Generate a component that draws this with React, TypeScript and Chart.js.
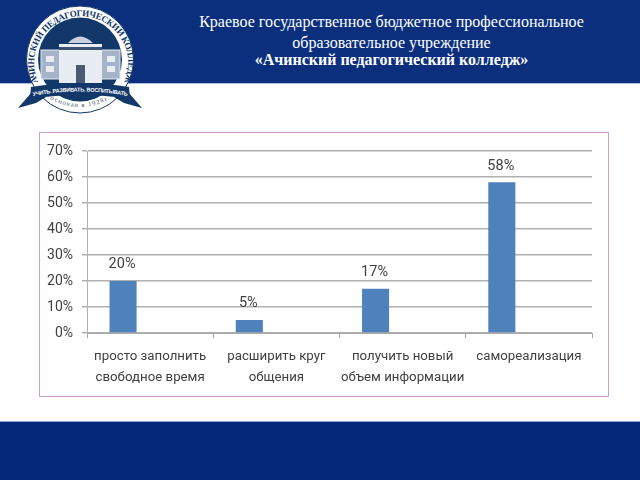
import React, { useEffect, useRef } from "react";
import { Chart, registerables } from "chart.js";

Chart.register(...registerables);

const categories = [
  ["просто заполнить", "свободное время"],
  ["расширить круг", "общения"],
  ["получить новый", "объем информации"],
  ["самореализация"],
];
const shares = [20, 5, 17, 58];
const emptySeriesA = [null, null, null, null];
const emptySeriesB = [null, null, null, null];
const titleLines = [
  "Краевое государственное бюджетное профессиональное",
  "образовательное учреждение",
  "«Ачинский педагогический колледж»",
];

const valueLabels = {
  id: "valueLabels",
  afterDatasetsDraw(chart: any) {
    const { ctx } = chart;
    const meta = chart.getDatasetMeta(0);
    ctx.save();
    ctx.font = '14.5px Roboto';
    ctx.fillStyle = "#404040";
    ctx.textAlign = "center";
    ctx.textBaseline = "bottom";
    meta.data.forEach((bar: any, i: number) => {
      ctx.fillText(shares[i] + "%", bar.x - 1, bar.y - 9);
    });
    ctx.restore();
  },
};

function Logo() {
  const navy = "#12386a";
  return (
    <svg width="160" height="120" viewBox="0 0 160 120" style={{ position: "absolute", left: 0, top: 0 }}>
      <defs>
        <path id="ringText" d="M 38 82 A 47 47 0 1 1 125 80" />
        <path id="ribbonText" d="M 33 96 Q 80 87 128 96" />
        <path id="baseText" d="M 50 99 Q 80 115 110 99" />
      </defs>
      <circle cx="80" cy="59.5" r="53.5" fill="#ffffff" stroke="#12386a" strokeWidth="1" />
      <circle cx="80" cy="59.5" r="42" fill={navy} />
      <text fontFamily="Liberation Serif" fontSize="9" fontWeight="700" fill={navy}>
        <textPath href="#ringText" textLength="186">АЧИНСКИЙ ПЕДАГОГИЧЕСКИЙ КОЛЛЕДЖ</textPath>
      </text>
      <rect x="41" y="50" width="79" height="29" fill="#a5b4c8" stroke="#e4e9f0" strokeWidth="1" />
      <rect x="59" y="44" width="43" height="39" fill="#e8edf3" />
      <path d="M 68 43 Q 80 30 93 43 Z" fill="#c9d3df" />
      <rect x="59" y="47" width="43" height="3" fill="#3d5170" />
      <rect x="46" y="56" width="8" height="6" fill="#e8edf3" />
      <rect x="46" y="66" width="8" height="6" fill="#e8edf3" />
      <rect x="107" y="56" width="8" height="6" fill="#e8edf3" />
      <rect x="107" y="66" width="8" height="6" fill="#e8edf3" />
      <rect x="76" y="65" width="9" height="18" fill="#4a5a70" />
      <path d="M 18 108 L 32 92 L 46 97 L 36 103 Z" fill={navy} />
      <path d="M 142 108 L 128 92 L 114 97 L 124 103 Z" fill={navy} />
      <path d="M 31 87 Q 80 79 129 87 L 130 99 Q 80 91 30 99 Z" fill={navy} />
      <text fontFamily="Liberation Sans" fontSize="5.5" fontWeight="700" fill="#ffffff">
        <textPath href="#ribbonText" textLength="95">УЧИТЬ. РАЗВИВАТЬ. ВОСПИТЫВАТЬ</textPath>
      </text>
      <text fontFamily="Liberation Serif" fontSize="6.5" fill="#43536a">
        <textPath href="#baseText" textLength="62">основан в 1928г.</textPath>
      </text>
    </svg>
  );
}

export default function App() {
  const ref = useRef<HTMLCanvasElement>(null);
  useEffect(() => {
    const chart = new Chart(ref.current!, {
      type: "bar",
      data: {
        labels: categories,
        datasets: [
          { data: shares, backgroundColor: "#4f81bd" },
          { data: emptySeriesA, backgroundColor: "#c0504d" },
          { data: emptySeriesB, backgroundColor: "#9bbb59" },
        ],
      },
      plugins: [valueLabels],
      options: {
        responsive: false,
        animation: false,
        layout: { padding: { top: 18, right: 16, left: 0, bottom: 0 } },
        plugins: { legend: { display: false }, tooltip: { enabled: false }, title: { display: false } },
        datasets: { bar: { categoryPercentage: 0.643, barPercentage: 1 } },
        scales: {
          x: {
            afterFit(s: any) { s.height = 63; s.paddingLeft = 0; s.paddingRight = 0; },
            grid: { drawOnChartArea: false, color: "#a8a8a8", tickLength: 5 },
            border: { color: "#a8a8a8" },
            ticks: { color: "#404040", font: { family: "Roboto", size: 13.25, lineHeight: 1.58 }, maxRotation: 0, autoSkip: false, padding: 8 },
          },
          y: {
            min: 0,
            max: 70,
            afterFit(s: any) { s.width = 47; s.paddingTop = 0; s.paddingBottom = 0; },
            grid: { color: "#b0b0b0", lineWidth: 1.5, tickLength: 5 },
            border: { color: "#b0b0b0" },
            ticks: { stepSize: 10, color: "#404040", font: { family: "Roboto", size: 14 }, padding: 9, callback: (v: any) => v + "%" },
          },
        },
      },
    } as any);
    return () => chart.destroy();
  }, []);

  const titleRow = { position: "absolute", left: 170, width: 443, textAlign: "center", color: "#ffffff", fontFamily: "Liberation Serif", fontSize: 16, lineHeight: "18px" } as any;

  return (
    <div style={{ position: "absolute", left: 0, top: 0, width: 640, height: 480, background: "#ffffff", overflow: "hidden" }}>
      <div style={{ position: "absolute", left: 0, top: 0, width: 640, height: 83, background: "#0b2f7d", borderBottom: "1px solid #a9c0e4" }} />
      <div style={{ position: "absolute", left: 0, top: 421, width: 640, height: 59, background: "#04277a", borderTop: "1px solid #8fa3c8", boxSizing: "border-box" }} />
      <Logo />
      <div style={{ ...titleRow, top: 13 }}>{titleLines[0]}</div>
      <div style={{ ...titleRow, top: 34 }}>{titleLines[1]}</div>
      <div style={{ ...titleRow, top: 51, fontWeight: 700 }}>{titleLines[2]}</div>
      <div style={{ position: "absolute", left: 39, top: 132, width: 568, height: 263, border: "1px solid #cf9fd0", background: "#fff" }}>
        <canvas ref={ref} width={568} height={263} style={{ display: "block" }} />
      </div>
    </div>
  );
}
